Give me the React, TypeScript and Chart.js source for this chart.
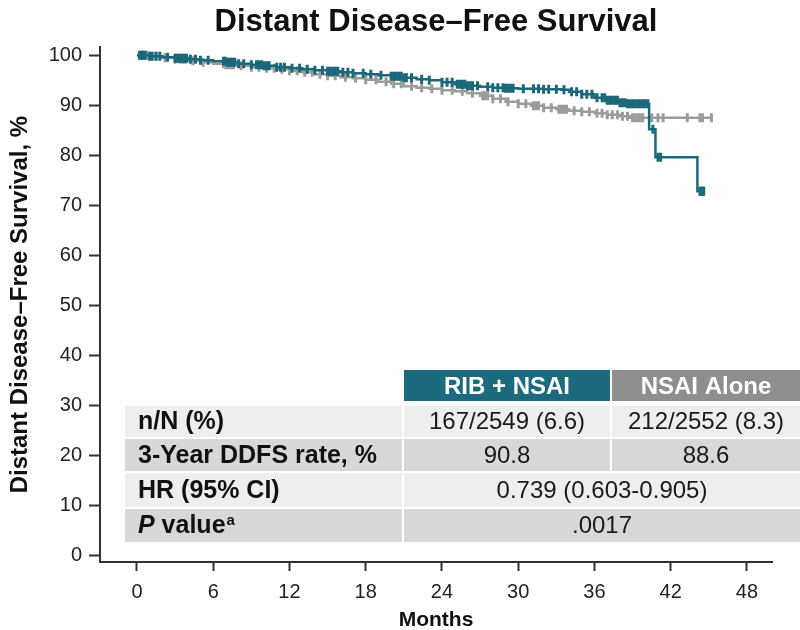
import React, { useEffect, useRef } from "react";
import { Chart, registerables } from "chart.js";

Chart.register(...registerables);

// ---------- data ----------
const chartTitle = "Distant Disease–Free Survival";
const yAxisTitle = "Distant Disease–Free Survival, %";
const xAxisTitle = "Months";
const xTickValues = [0, 6, 12, 18, 24, 30, 36, 42, 48];
const yTickValues = [0, 10, 20, 30, 40, 50, 60, 70, 80, 90, 100];

// RIB + NSAI Kaplan–Meier (time in months, survival %)
const ribTimes = [0, 1, 2, 3, 4, 5, 6, 7, 8, 9, 10, 11, 12, 13, 14, 15, 16, 17, 18, 19, 20, 21, 22, 23, 24, 25, 26, 27, 28, 29, 30, 32, 33.4, 34, 35, 36, 37, 38, 38.6, 40.3, 40.8, 44.1, 44.6];
const ribSurv = [100, 99.8, 99.6, 99.4, 99.2, 99.0, 98.8, 98.6, 98.3, 98.1, 97.9, 97.6, 97.4, 97.2, 97.0, 96.8, 96.6, 96.4, 96.2, 96.0, 95.8, 95.5, 95.2, 95.0, 94.6, 94.2, 93.9, 93.7, 93.5, 93.4, 93.3, 93.2, 93.1, 92.7, 92.2, 91.5, 91.0, 90.5, 90.3, 85.2, 79.6, 72.8, 72.8];
const ribCensor = [0.2, 0.35, 0.5, 0.65, 1.0, 1.2, 1.5, 1.8, 2.4, 3.0, 3.15, 3.3, 3.45, 3.6, 3.75, 3.9, 4.2, 4.6, 5.0, 5.6, 6.8, 6.95, 7.1, 7.25, 7.4, 7.55, 7.7, 8.0, 8.4, 9.0, 9.4, 9.6, 9.8, 10.0, 10.2, 10.4, 11.0, 11.3, 11.6, 12.2, 12.8, 13.4, 14.0, 14.6, 15.0, 15.2, 15.4, 15.6, 15.8, 16.2, 16.6, 17.0, 17.8, 18.4, 19.2, 20.0, 20.2, 20.4, 20.6, 20.8, 21.0, 21.2, 21.6, 22.4, 23.0, 24.0, 24.4, 24.8, 25.2, 25.4, 25.6, 25.8, 26.0, 26.2, 26.4, 26.8, 27.6, 28.0, 28.4, 28.8, 29.0, 29.2, 29.4, 29.6, 30.4, 31.2, 31.6, 32.0, 32.4, 33.0, 33.6, 34.2, 34.6, 35.0, 35.4, 35.8, 36.2, 36.6, 36.8, 37.0, 37.2, 37.4, 37.6, 37.8, 38.0, 38.2, 38.4, 38.6, 38.8, 39.0, 39.2, 39.4, 39.6, 39.8, 40.0, 40.2, 40.6, 41.0, 41.2, 44.3, 44.4, 44.5, 44.6];

// NSAI Alone Kaplan–Meier
const nsaiTimes = [0, 1, 2, 3, 4, 5, 6, 7, 8, 9, 10, 11, 12, 13, 14, 15, 16, 17, 18, 19, 20, 21, 22, 23, 24, 25, 26, 27, 28, 29, 30, 31, 32, 33, 34, 35, 36, 37, 38, 38.8, 45.3];
const nsaiSurv = [100, 99.8, 99.5, 99.2, 98.9, 98.6, 98.3, 98.1, 97.9, 97.6, 97.4, 97.2, 96.9, 96.6, 96.2, 95.9, 95.6, 95.4, 95.1, 94.7, 94.3, 93.8, 93.5, 93.3, 93.0, 92.8, 92.4, 91.9, 91.3, 90.7, 90.3, 89.9, 89.5, 89.2, 88.9, 88.7, 88.4, 88.1, 87.8, 87.5, 87.5];
const nsaiCensor = [0.4, 0.8, 1.5, 2.2, 3.0, 3.4, 3.6, 3.8, 4.4, 5.2, 6.8, 7.0, 7.2, 7.4, 7.6, 8.2, 9.0, 9.6, 10.2, 10.8, 11.4, 12.0, 12.6, 13.2, 13.8, 14.4, 15.0, 15.6, 16.4, 17.2, 18.0, 18.8, 19.6, 20.2, 20.8, 21.6, 22.4, 23.2, 24.0, 24.8, 25.6, 26.4, 27.2, 27.4, 27.6, 28.0, 28.6, 29.2, 30.0, 30.6, 31.2, 31.4, 31.6, 32.0, 32.6, 33.2, 33.4, 33.6, 33.8, 34.4, 35.0, 35.6, 36.2, 36.6, 37.0, 37.4, 37.8, 38.2, 38.6, 39.0, 39.2, 39.4, 39.6, 39.8, 40.5, 41.0, 41.4, 43.3, 44.3, 44.5, 45.2];

// summary table
const groupNames = ["RIB + NSAI", "NSAI Alone"];
const rowLabels = ["n/N (%)", "3-Year DDFS rate, %", "HR (95% CI)", "P value"];
const ribCells = ["167/2549 (6.6)", "90.8"];
const nsaiCells = ["212/2552 (8.3)", "88.6"];
const sharedCells = ["0.739 (0.603-0.905)", ".0017"];
const pValueFootnote = "a";

// ---------- styling ----------
const TEAL = "#1b687b";
const GRAY = "#9c9c9c";
const HEAD_TEAL = "#1b6a7d";
const HEAD_GRAY = "#8e8e8e";
const ROW_LIGHT = "#eeeeee";
const ROW_DARK = "#d8d8d8";
const FONT = "'Liberation Sans', Arial, Helvetica, sans-serif";

function stepValue(times: number[], surv: number[], t: number): number {
  let v = surv[0];
  for (let i = 0; i < times.length; i++) {
    if (times[i] <= t) v = surv[i];
    else break;
  }
  return v;
}

const tablePlugin = {
  id: "ddfsTable",
  beforeDatasetsDraw(chart: any) {
    const ctx: CanvasRenderingContext2D = chart.ctx;
    const W = chart.width;
    const L = 125;
    const C1 = 404;
    const C2 = 612;
    const R = W;
    const g = 2;
    ctx.save();

    // header
    ctx.fillStyle = HEAD_TEAL;
    ctx.fillRect(C1, 370, C2 - C1 - g, 31);
    ctx.fillStyle = HEAD_GRAY;
    ctx.fillRect(C2, 370, R - C2, 31);
    ctx.fillStyle = "#ffffff";
    ctx.font = `bold 24px ${FONT}`;
    ctx.textAlign = "center";
    ctx.textBaseline = "middle";
    ctx.fillText(groupNames[0], (C1 + C2 - g) / 2, 387);
    ctx.fillText(groupNames[1], (C2 + R) / 2, 387);

    const rows = [
      { top: 406, h: 31, color: ROW_LIGHT },
      { top: 439, h: 32, color: ROW_DARK },
      { top: 473, h: 34, color: ROW_LIGHT },
      { top: 509, h: 33, color: ROW_DARK },
    ];
    rows.forEach((r, i) => {
      ctx.fillStyle = r.color;
      ctx.fillRect(L, r.top, C1 - g - L, r.h);
      if (i < 2) {
        ctx.fillRect(C1, r.top, C2 - g - C1, r.h);
        ctx.fillRect(C2, r.top, R - C2, r.h);
      } else {
        ctx.fillRect(C1, r.top, R - C1, r.h);
      }
      const cy = r.top + r.h / 2 + 1;
      // label
      ctx.fillStyle = "#111111";
      ctx.textAlign = "left";
      if (i === 3) {
        ctx.font = `italic bold 25px ${FONT}`;
        ctx.fillText("P", 138, cy);
        const pw = ctx.measureText("P").width;
        ctx.font = `bold 25px ${FONT}`;
        const rest = rowLabels[3].slice(1);
        ctx.fillText(rest, 138 + pw, cy);
        const rw = ctx.measureText(rest).width;
        ctx.font = `bold 15px ${FONT}`;
        ctx.fillText(pValueFootnote, 138 + pw + rw + 1, cy - 6);
      } else {
        ctx.font = `bold 25px ${FONT}`;
        ctx.fillText(rowLabels[i], 138, cy);
      }
      // values
      ctx.font = `24px ${FONT}`;
      ctx.fillStyle = "#1a1a1a";
      ctx.textAlign = "center";
      if (i < 2) {
        ctx.fillText(ribCells[i], (C1 + C2 - g) / 2, cy);
        ctx.fillText(nsaiCells[i], (C2 + R) / 2, cy);
      } else {
        ctx.fillText(sharedCells[i - 2], (C1 + R) / 2, cy);
      }
    });
    ctx.restore();
  },
};

export default function App() {
  const ref = useRef<HTMLCanvasElement | null>(null);

  useEffect(() => {
    if (!ref.current) return;
    const ribLine = ribTimes.map((t, i) => ({ x: t, y: ribSurv[i] }));
    const nsaiLine = nsaiTimes.map((t, i) => ({ x: t, y: nsaiSurv[i] }));
    const ribMarks = ribCensor.map((t) => ({ x: t, y: stepValue(ribTimes, ribSurv, t) }));
    const nsaiMarks = nsaiCensor.map((t) => ({ x: t, y: stepValue(nsaiTimes, nsaiSurv, t) }));

    const censorStyle = (color: string) => ({
      showLine: false,
      pointStyle: "line" as const,
      rotation: 90,
      pointRotation: 90,
      pointRadius: 4.5,
      pointHoverRadius: 4.5,
      pointBorderWidth: 3,
      pointBorderColor: color,
      pointBackgroundColor: color,
      borderColor: color,
      backgroundColor: color,
    });

    const chart = new Chart(ref.current, {
      type: "line",
      data: {
        datasets: [
          {
            label: groupNames[0] + " censored",
            data: ribMarks,
            order: 0,
            ...censorStyle(TEAL),
          },
          {
            label: groupNames[0],
            data: ribLine,
            order: 1,
            stepped: true,
            borderColor: TEAL,
            borderWidth: 2.5,
            pointRadius: 0,
            fill: false,
          },
          {
            label: groupNames[1] + " censored",
            data: nsaiMarks,
            order: 2,
            ...censorStyle(GRAY),
          },
          {
            label: groupNames[1],
            data: nsaiLine,
            order: 3,
            stepped: true,
            borderColor: GRAY,
            borderWidth: 2.5,
            pointRadius: 0,
            fill: false,
          },
        ] as any,
      },
      options: {
        animation: false,
        responsive: false,
        maintainAspectRatio: false,
        layout: { padding: { left: 0, right: 28, top: 0, bottom: 0 } },
        plugins: {
          legend: { display: false },
          tooltip: { enabled: false },
          title: {
            display: true,
            text: chartTitle,
            fullSize: false,
            color: "#111111",
            font: { family: FONT, size: 31, weight: "bold" },
            padding: { top: 4, bottom: 6 },
          },
        },
        scales: {
          x: {
            type: "linear",
            min: -2.91,
            max: 49.97,
            afterFit: (s: any) => {
              s.height = 68;
            },
            afterBuildTicks: (s: any) => {
              s.ticks = xTickValues.map((v) => ({ value: v }));
            },
            ticks: {
              includeBounds: false,
              color: "#222222",
              padding: 9,
              font: { family: FONT, size: 20 },
              maxRotation: 0,
            },
            grid: {
              display: true,
              drawOnChartArea: false,
              drawTicks: true,
              tickLength: 9,
              tickColor: "#333333",
              tickWidth: 2,
            },
            border: { display: true, color: "#333333", width: 2 },
            title: {
              display: true,
              text: xAxisTitle,
              color: "#111111",
              font: { family: FONT, size: 21, weight: "bold" },
              padding: { top: 0, bottom: -3 },
            },
          },
          y: {
            type: "linear",
            min: -1.4,
            max: 101.6,
            afterFit: (s: any) => {
              s.width = 100;
            },
            afterBuildTicks: (s: any) => {
              s.ticks = yTickValues.map((v) => ({ value: v }));
            },
            ticks: {
              includeBounds: false,
              color: "#222222",
              padding: 7,
              font: { family: FONT, size: 20 },
            },
            grid: {
              display: true,
              drawOnChartArea: false,
              drawTicks: true,
              tickLength: 11,
              tickColor: "#333333",
              tickWidth: 2,
            },
            border: { display: true, color: "#333333", width: 2 },
            title: {
              display: true,
              text: yAxisTitle,
              color: "#111111",
              font: { family: FONT, size: 24, weight: "bold" },
              padding: { top: 6, bottom: 0 },
            },
          },
        },
      },
      plugins: [tablePlugin],
    } as any);

    return () => chart.destroy();
  }, []);

  return (
    <div style={{ position: "fixed", left: 0, top: 0, width: 800, height: 630, background: "#ffffff" }}>
      <canvas ref={ref} width={800} height={630} style={{ display: "block", width: 800, height: 630 }} />
    </div>
  );
}
